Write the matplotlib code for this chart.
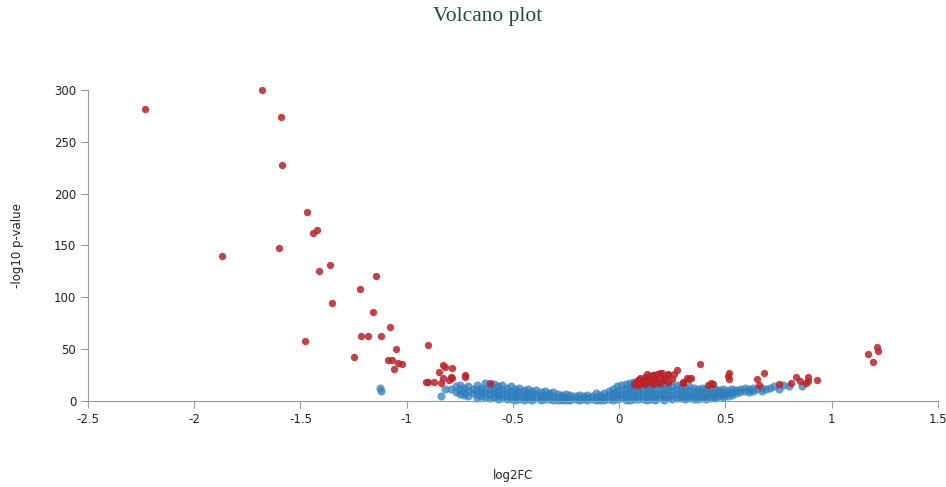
import numpy as np
import matplotlib
matplotlib.use('Agg')
import matplotlib.pyplot as plt

# significant genes (red)
red_x = [-2.23, -1.68, -1.59, -1.585, -1.47, -1.44, -1.42, -1.60, -1.87, -1.415,
         -1.36, -1.35, -1.22, -1.145, -1.16, -1.48, -1.215, -1.18, -1.12, -1.08,
         -1.25, -1.09, -1.07, -1.05, -1.06, -1.04, -1.02, -0.90, -0.91, -0.90,
         -0.83, -0.82, -0.785, -0.85, -0.79, -0.785, -0.725, -0.87, -0.84, -0.83,
         -0.80, -0.725, -0.61,
         0.08, 0.09, 0.10, 0.11, 0.12, 0.13, 0.14, 0.15, 0.16, 0.17,
         0.18, 0.19, 0.20, 0.21, 0.23, 0.10, 0.12, 0.14, 0.16, 0.18,
         0.07, 0.09, 0.11, 0.13, 0.15, 0.17, 0.19, 0.21, 0.25, 0.27,
         0.26, 0.30, 0.32, 0.34, 0.38, 0.43, 0.44, 0.42, 0.51,
         0.515, 0.515, 0.68, 0.65, 0.66, 0.75, 0.81, 0.83, 0.85, 0.89,
         0.89, 0.88, 0.93, 1.17, 1.195, 1.215, 1.22, 0.30, 0.33, 0.23,
         0.23, 0.19, 0.16]
red_y = [282, 300, 274, 228, 182, 162, 165, 148, 140, 125,
         131, 95, 108, 121, 86, 58, 63, 63, 63, 71,
         42, 40, 40, 50, 31, 37, 36, 54, 18, 18,
         35, 33, 32, 28, 23, 22, 25, 18, 17, 22,
         20, 23, 17,
         18, 20, 22, 20, 23, 21, 24, 22, 25, 23,
         26, 24, 27, 22, 25, 17, 16, 18, 16, 18,
         16, 15, 17, 26, 19, 21, 17, 20, 21, 30,
         26, 17, 22, 22, 36, 17, 16, 15, 24,
         27, 21, 27, 21, 15, 16, 17, 23, 19, 23,
         19, 17, 20, 45, 38, 52, 48, 18, 21, 18,
         26, 27, 25]

# non significant genes (blue)
blue_x = [-1.125, -1.12, -0.84, -0.82, -0.79,
          -0.77, -0.77, -0.75, -0.75, -0.75, -0.73, -0.73, -0.73,
          -0.71, -0.71, -0.71, -0.69, -0.69, -0.67, -0.67, -0.67, -0.67,
          -0.65, -0.65, -0.65, -0.63, -0.63, -0.63, -0.63,
          -0.61, -0.61, -0.61, -0.61, -0.59, -0.59, -0.59, -0.59,
          -0.57, -0.57, -0.57, -0.57, -0.55, -0.55, -0.55, -0.55,
          -0.53, -0.53, -0.53, -0.53, -0.51, -0.51, -0.51, -0.51,
          -0.49, -0.49, -0.49, -0.49, -0.47, -0.47, -0.47, -0.47,
          -0.45, -0.45, -0.45, -0.45, -0.43, -0.43, -0.43, -0.43,
          -0.41, -0.41, -0.41, -0.41, -0.39, -0.39, -0.39,
          -0.37, -0.37, -0.37, -0.37, -0.35, -0.35, -0.35,
          -0.33, -0.33, -0.33, -0.31, -0.31, -0.31, -0.29, -0.29, -0.29,
          -0.27, -0.27, -0.27, -0.25, -0.25, -0.25, -0.23, -0.23, -0.23,
          -0.21, -0.21, -0.19, -0.19, -0.19, -0.17, -0.17,
          -0.15, -0.15, -0.15, -0.13, -0.13, -0.11, -0.11, -0.11,
          -0.09, -0.09, -0.09, -0.07, -0.07, -0.07, -0.05, -0.05, -0.05,
          -0.03, -0.03, -0.03, -0.03, -0.01, -0.01, -0.01, -0.01,
          0.01, 0.01, 0.01, 0.01, 0.03, 0.03, 0.03, 0.03, 0.03,
          0.05, 0.05, 0.05, 0.05, 0.05, 0.07, 0.07, 0.07, 0.07, 0.07,
          0.09, 0.09, 0.09, 0.09, 0.09, 0.11, 0.11, 0.11, 0.11, 0.11,
          0.13, 0.13, 0.13, 0.13, 0.13, 0.15, 0.15, 0.15, 0.15, 0.15,
          0.17, 0.17, 0.17, 0.17, 0.17, 0.19, 0.19, 0.19, 0.19,
          0.21, 0.21, 0.21, 0.21, 0.21, 0.23, 0.23, 0.23, 0.23,
          0.25, 0.25, 0.25, 0.25, 0.27, 0.27, 0.27, 0.27,
          0.29, 0.29, 0.29, 0.29, 0.31, 0.31, 0.31, 0.31,
          0.33, 0.33, 0.33, 0.33, 0.35, 0.35, 0.35, 0.35,
          0.37, 0.37, 0.37, 0.37, 0.39, 0.39, 0.39, 0.39,
          0.41, 0.41, 0.41, 0.41, 0.43, 0.43, 0.43, 0.43,
          0.45, 0.45, 0.45, 0.45, 0.47, 0.47, 0.47,
          0.49, 0.49, 0.49, 0.49, 0.51, 0.51, 0.51, 0.53, 0.53, 0.53,
          0.55, 0.55, 0.57, 0.57, 0.59, 0.59, 0.61, 0.61, 0.63, 0.63,
          0.65, 0.67, 0.67, 0.69, 0.71, 0.73, 0.75, 0.77, 0.80, 0.86]
blue_y = [13, 10, 5, 12, 12,
          14, 9, 15, 11, 7, 13, 9, 6,
          14, 10, 5, 12, 8, 15, 11, 7, 3,
          13, 9, 5, 17, 12, 8, 4,
          15, 11, 7, 3, 16, 12, 8, 4,
          14, 10, 6, 2, 15, 11, 7, 3,
          13, 9, 5, 2, 14, 10, 6, 2,
          12, 9, 5, 1, 13, 9, 6, 2,
          11, 8, 4, 1, 12, 8, 5, 2,
          10, 7, 4, 1, 11, 7, 3,
          9, 6, 3, 1, 10, 6, 2,
          8, 5, 2, 9, 5, 1, 7, 4, 1,
          6, 3, 1, 7, 4, 1, 6, 3, 1,
          5, 2, 6, 3, 1, 5, 2,
          6, 3, 1, 5, 2, 8, 4, 1,
          6, 3, 1, 8, 4, 1, 10, 6, 2,
          12, 8, 4, 1, 14, 10, 6, 2,
          15, 11, 7, 3, 16, 12, 8, 4, 1,
          17, 13, 9, 5, 1, 18, 14, 10, 6, 2,
          17, 13, 9, 5, 2, 18, 14, 10, 6, 2,
          16, 12, 8, 4, 1, 17, 13, 9, 5, 2,
          16, 12, 8, 4, 1, 15, 11, 7, 3,
          16, 12, 8, 4, 1, 15, 11, 7, 3,
          14, 10, 6, 2, 15, 11, 7, 3,
          14, 10, 6, 3, 13, 9, 5, 2,
          14, 10, 6, 3, 13, 9, 5, 2,
          12, 9, 5, 2, 13, 9, 5, 3,
          12, 8, 5, 2, 13, 9, 6, 3,
          12, 8, 5, 3, 11, 8, 5,
          12, 9, 6, 4, 11, 8, 5, 12, 9, 6,
          11, 8, 12, 9, 13, 10, 12, 9, 13, 10,
          12, 13, 10, 12, 13, 14, 12, 15, 14, 14]

xticks = [-2.5, -2, -1.5, -1, -0.5, 0, 0.5, 1, 1.5]
xtick_labels = ['-2.5', '-2', '-1.5', '-1', '-0.5', '0', '0.5', '1', '1.5']
yticks = [0, 50, 100, 150, 200, 250, 300]

fig = plt.figure(figsize=(9.46, 4.87), dpi=100)
ax = fig.add_axes([0.093, 0.1766, 0.8985, 0.6386])

ax.scatter(blue_x, blue_y, s=34, color='#2f7fbf', alpha=0.75, linewidths=0, clip_on=False)
ax.scatter(red_x, red_y, s=28, color='#bb2227', alpha=0.85, linewidths=0, clip_on=False)

ax.set_xlim(-2.5, 1.5)
ax.set_ylim(0, 300)
ax.set_xticks(xticks)
ax.set_xticklabels(xtick_labels)
ax.set_yticks(yticks)

for s in ['top', 'right']:
    ax.spines[s].set_visible(False)
for s in ['left', 'bottom']:
    ax.spines[s].set_color('#999999')
    ax.spines[s].set_linewidth(0.8)
ax.tick_params(axis='both', colors='#999999', labelcolor='#222222',
               labelsize=8.5, length=5, width=0.8)

fig.text(0.019, 0.496, '-log10 p-value', rotation=90, ha='center', va='center',
         fontsize=8.5, color='#222222')
fig.text(0.542, 0.024, 'log2FC', ha='center', va='center', fontsize=8.5, color='#222222')
fig.text(0.515, 0.966, 'Volcano plot', ha='center', va='center',
         fontsize=15.5, family='Liberation Serif', color='#1e4d3a')

fig.savefig('out.png', dpi=100)
